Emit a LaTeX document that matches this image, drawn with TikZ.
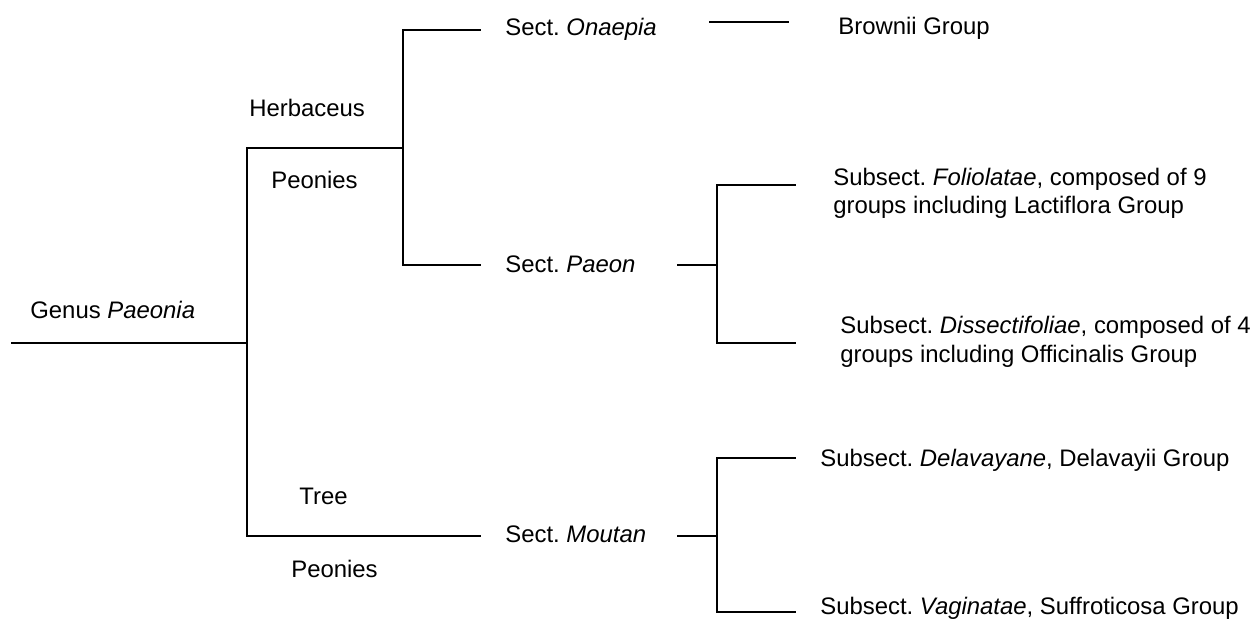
\documentclass[tikz,border=0pt]{standalone}
\usepackage{fontspec}
\setmainfont{Liberation Sans}
\usetikzlibrary{positioning}
\frenchspacing

\begin{document}
\begin{tikzpicture}[
    x=0.02cm, y=-0.02cm,
    lbl/.style ={font=\fontsize{13.6}{16.4}\selectfont, inner sep=0pt,
                 anchor=base west, align=left},
    link/.style={line width=0.9pt, line cap=rect},
]
\useasboundingbox (0,0) rectangle (1250,621);
% genus and the two groups of peonies
\node[lbl] (genus) at (30,318) {Genus \textit{Paeonia}};
\node[lbl] (herb)  at (249,117) {Herbaceus};
\node[lbl] (herbp) at (271,189) {Peonies};
\node[lbl] (tree)  at (299,504) {Tree};
\node[lbl] (treep) at (291,577) {Peonies};
% sections
\node[lbl] (onaepia) at (505,36)  {Sect. \textit{Onaepia}};
\node[lbl] (paeon)   at (505,273) {Sect. \textit{Paeon}};
\node[lbl] (moutan)  at (505,542) {Sect. \textit{Moutan}};
% groups (two-line texts sit on their last line)
\node[lbl] (brownii) at (838,35)  {Brownii Group};
\node[lbl] (folio)   at (833,214) {Subsect. \textit{Foliolatae}, composed of 9\\
                                   groups including Lactiflora Group};
\node[lbl] (dissect) at (840,362) {Subsect. \textit{Dissectifoliae}, composed of 4\\
                                   groups including Officinalis Group};
\node[lbl] (delav)   at (820,466) {Subsect. \textit{Delavayane}, Delavayii Group};
\node[lbl] (vagin)   at (820,614) {Subsect. \textit{Vaginatae}, Suffroticosa Group};
% junctions and line ends
\coordinate (root)  at (12,343);
\coordinate (jgen)  at (247,343);
\coordinate (jherb) at (403,148);
\coordinate (eona)  at (480,30);
\coordinate (epae)  at (480,265);
\coordinate (emou)  at (480,536);
\coordinate (sona)  at (710,22);
\coordinate (tona)  at (788,22);
\coordinate (spae)  at (678,265);
\coordinate (jpae)  at (717,265);
\coordinate (efol)  at (795,185);
\coordinate (edis)  at (795,343);
\coordinate (smou)  at (678,536);
\coordinate (jmou)  at (717,536);
\coordinate (edel)  at (795,458);
\coordinate (evag)  at (795,612);
\draw[link] (root) -- (jgen);
\draw[link] (jgen) |- (jherb);
\draw[link] (jgen) |- (emou);
\draw[link] (jherb) |- (eona);
\draw[link] (jherb) |- (epae);
\draw[link] (sona) -- (tona);
\draw[link] (spae) -- (jpae);
\draw[link] (jpae) |- (efol);
\draw[link] (jpae) |- (edis);
\draw[link] (smou) -- (jmou);
\draw[link] (jmou) |- (edel);
\draw[link] (jmou) |- (evag);
\end{tikzpicture}
\end{document}
